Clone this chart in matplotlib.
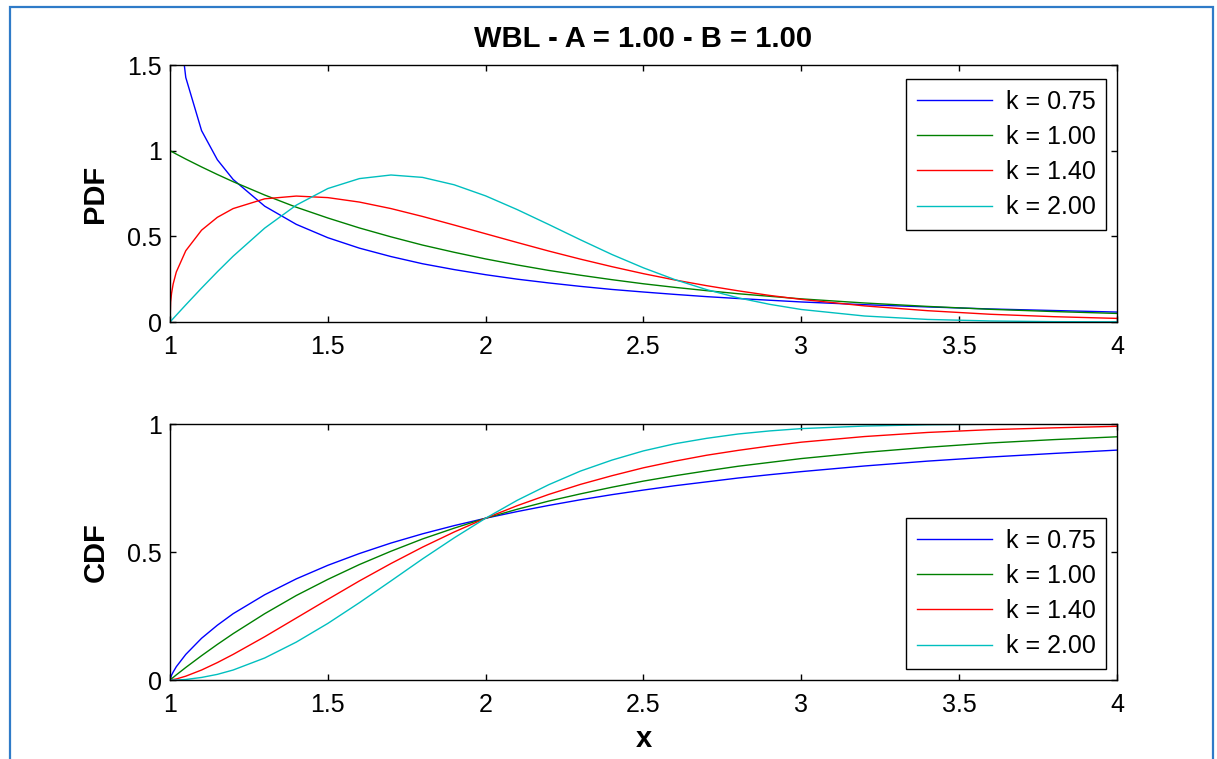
import numpy as np
import matplotlib
matplotlib.use("Agg")
import matplotlib.pyplot as plt
from matplotlib.patches import Rectangle

plt.rcParams["font.family"] = ["Liberation Sans", "DejaVu Sans"]

# values (x = 1 + t)
x = [1.000, 1.002, 1.005, 1.01, 1.02, 1.05, 1.1, 1.15, 1.2, 1.3, 1.4, 1.5, 1.6,
     1.7, 1.8, 1.9, 2.0, 2.1, 2.2, 2.3, 2.4, 2.5, 2.6, 2.7, 2.8, 2.9, 3.0,
     3.2, 3.4, 3.6, 3.8, 4.0]

pdf_075 = [np.nan, 3.513, 2.768, 2.298, 1.891, 1.427, 1.117, 0.947, 0.832, 0.676,
           0.570, 0.492, 0.431, 0.382, 0.340, 0.306, 0.276, 0.250, 0.228, 0.208,
           0.190, 0.175, 0.161, 0.148, 0.137, 0.127, 0.117, 0.101, 0.088, 0.076,
           0.067, 0.058]
pdf_100 = [1.000, 0.998, 0.995, 0.990, 0.980, 0.951, 0.905, 0.861, 0.819, 0.741,
           0.670, 0.607, 0.549, 0.497, 0.449, 0.407, 0.368, 0.333, 0.301, 0.273,
           0.247, 0.223, 0.202, 0.183, 0.165, 0.150, 0.135, 0.111, 0.091, 0.074,
           0.061, 0.050]
pdf_140 = [0.000, 0.117, 0.168, 0.222, 0.292, 0.416, 0.536, 0.611, 0.662, 0.719,
           0.735, 0.726, 0.700, 0.662, 0.616, 0.566, 0.515, 0.464, 0.414, 0.367,
           0.323, 0.282, 0.245, 0.212, 0.182, 0.155, 0.132, 0.094, 0.066, 0.045,
           0.031, 0.021]
pdf_200 = [0.000, 0.004, 0.010, 0.020, 0.040, 0.100, 0.198, 0.293, 0.384, 0.548,
           0.682, 0.779, 0.837, 0.858, 0.844, 0.801, 0.736, 0.656, 0.569, 0.480,
           0.394, 0.316, 0.247, 0.189, 0.141, 0.103, 0.073, 0.035, 0.015, 0.006,
           0.002, 0.001]

cdf_075 = [0.000, 0.009, 0.019, 0.031, 0.052, 0.100, 0.163, 0.214, 0.259, 0.333,
           0.395, 0.448, 0.494, 0.535, 0.571, 0.603, 0.632, 0.658, 0.682, 0.704,
           0.724, 0.742, 0.759, 0.774, 0.789, 0.802, 0.814, 0.836, 0.855, 0.871,
           0.885, 0.898]
cdf_100 = [0.000, 0.002, 0.005, 0.010, 0.020, 0.049, 0.095, 0.139, 0.181, 0.259,
           0.330, 0.393, 0.451, 0.503, 0.551, 0.593, 0.632, 0.667, 0.699, 0.727,
           0.753, 0.777, 0.798, 0.817, 0.835, 0.850, 0.865, 0.889, 0.909, 0.926,
           0.939, 0.950]
cdf_140 = [0.000, 0.000, 0.001, 0.002, 0.004, 0.015, 0.039, 0.068, 0.100, 0.169,
           0.242, 0.315, 0.387, 0.455, 0.519, 0.578, 0.632, 0.681, 0.725, 0.764,
           0.798, 0.829, 0.855, 0.878, 0.897, 0.914, 0.929, 0.951, 0.967, 0.978,
           0.985, 0.991]
cdf_200 = [0.000, 0.000, 0.000, 0.000, 0.000, 0.002, 0.010, 0.022, 0.039, 0.086,
           0.148, 0.221, 0.302, 0.387, 0.473, 0.555, 0.632, 0.702, 0.763, 0.816,
           0.859, 0.895, 0.923, 0.944, 0.961, 0.973, 0.982, 0.992, 0.997, 0.999,
           1.000, 1.000]

labels = ["k = 0.75", "k = 1.00", "k = 1.40", "k = 2.00"]
colors = ["#0000ff", "#008000", "#ff0000", "#00bfbf"]

xticks = [1, 1.5, 2, 2.5, 3, 3.5, 4]
xtick_labels = ["1", "1.5", "2", "2.5", "3", "3.5", "4"]
pdf_yticks = [0, 0.5, 1, 1.5]
pdf_ytick_labels = ["0", "0.5", "1", "1.5"]
cdf_yticks = [0, 0.5, 1]
cdf_ytick_labels = ["0", "0.5", "1"]

W, H = 1217, 759
fig = plt.figure(figsize=(W / 100, H / 100), dpi=100)

# blue picture frame (bottom edge is cut off in the reference)
fig.patches.append(Rectangle((9.5 / W, -0.05), (1213 - 9.5) / W, 1.05 - 7 / H,
                             transform=fig.transFigure, fill=False,
                             edgecolor="#2f7bc8", linewidth=1.6))

ax1 = fig.add_axes([170 / W, 1 - 322 / H, 947 / W, 257 / H])
ax2 = fig.add_axes([170 / W, 1 - 680 / H, 947 / W, 256 / H])

for ys, c, lab in zip([pdf_075, pdf_100, pdf_140, pdf_200], colors, labels):
    ax1.plot(x, ys, color=c, lw=1.0, label=lab)
for ys, c, lab in zip([cdf_075, cdf_100, cdf_140, cdf_200], colors, labels):
    ax2.plot(x, ys, color=c, lw=1.0, label=lab)

ax1.set_ylim(0, 1.5)
ax2.set_ylim(0, 1)
ax1.set_yticks(pdf_yticks, labels=pdf_ytick_labels)
ax2.set_yticks(cdf_yticks, labels=cdf_ytick_labels)

for ax in (ax1, ax2):
    ax.set_xlim(1, 4)
    ax.set_xticks(xticks, labels=xtick_labels)
    ax.tick_params(direction="in", length=4, width=1, labelsize=18,
                   top=True, right=True)
    ax.tick_params(axis="x", pad=9)
    ax.tick_params(axis="y", pad=6)
    for sp in ax.spines.values():
        sp.set_linewidth(1.0)

ax1.set_title("WBL - A = 1.00 - B = 1.00", fontsize=21, fontweight="bold", pad=13)
ax1.set_ylabel("PDF", fontsize=21, fontweight="bold")
ax2.set_ylabel("CDF", fontsize=21, fontweight="bold")
ax1.yaxis.set_label_coords(-0.064, 0.5)
ax2.yaxis.set_label_coords(-0.064, 0.5)
ax2.set_xlabel("x", fontsize=21, fontweight="bold")
ax2.xaxis.set_label_coords(0.5, -0.175)

leg_kw = dict(fontsize=18, frameon=True, fancybox=False, borderaxespad=0,
              handlelength=3.0, handletextpad=0.55, labelspacing=0.45,
              borderpad=0.42, edgecolor="black")
l1 = ax1.legend(loc="upper right", bbox_to_anchor=(0.9884, 0.9455), **leg_kw)
l2 = ax2.legend(loc="lower right", bbox_to_anchor=(0.9884, 0.043), **leg_kw)
for lg in (l1, l2):
    lg.get_frame().set_linewidth(1.0)
    lg.get_frame().set_alpha(1)

fig.savefig("out.png", dpi=100, facecolor="white")
